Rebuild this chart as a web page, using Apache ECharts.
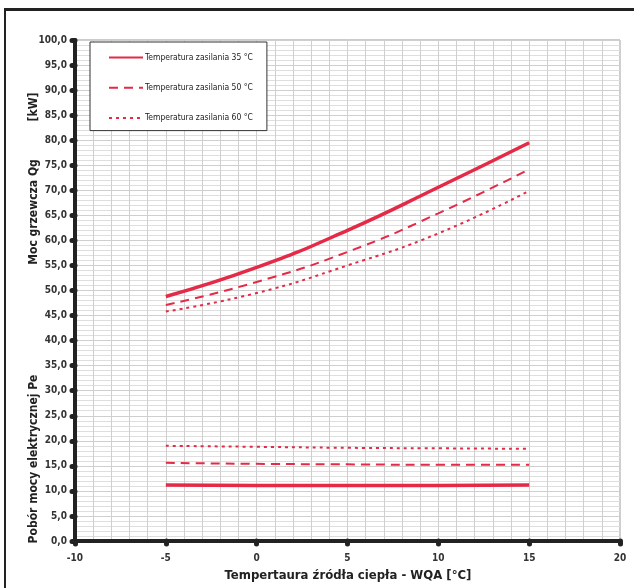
<!DOCTYPE html>
<html><head><meta charset="utf-8">
<script src="https://cdn.jsdelivr.net/npm/echarts@6/dist/echarts.min.js"></script>
<style>
html,body{margin:0;padding:0;background:#fff;}
#frame{position:absolute;left:4px;top:8px;width:640px;height:590px;border-top:3px solid #222;border-left:2px solid #222;}
#c{position:absolute;left:0;top:0;width:634px;height:588px;}
</style></head><body>
<div id="frame"></div>
<div id="c"></div>
<script>
const xValues = [-5, 0, 5, 10, 15];
const seriesNames = ['Temperatura zasilania 35 °C', 'Temperatura zasilania 50 °C', 'Temperatura zasilania 60 °C'];
const heat35 = [48.8, 54.6, 62.0, 70.6, 79.5];
const heat50 = [47.1, 51.7, 57.7, 65.4, 74.2];
const heat60 = [45.8, 49.5, 55.0, 61.4, 69.9];
const power35 = [11.2, 11.1, 11.1, 11.1, 11.2];
const power50 = [15.6, 15.4, 15.3, 15.2, 15.2];
const power60 = [19.0, 18.8, 18.6, 18.5, 18.4];
const yTickLabels = v => v.toFixed(1).replace('.', ',');

const red = '#e42a46';
const styles = [
  {width: 3.5, type: 'solid'},
  {width: 2, type: [9, 6]},
  {width: 2, type: [3, 4]}
];
const pair = (ys) => xValues.map((x, i) => [x, ys[i]]);
const groups = [[heat35, power35], [heat50, power50], [heat60, power60]];
const series = [];
groups.forEach((g, k) => {
  g.forEach(ys => {
    series.push({
      name: seriesNames[k], type: 'line', smooth: true, showSymbol: false, symbol: 'none',
      data: pair(ys), lineStyle: Object.assign({color: red}, styles[k]), itemStyle: {color: red}
    });
  });
});

const chart = echarts.init(document.getElementById('c'));
const gridColor = '#cfcfcf';
chart.setOption({
  animation: false,
  backgroundColor: 'transparent',
  grid: {left: 75, right: 14, top: 40, bottom: 47, show: true, borderColor: '#999', borderWidth: 1, backgroundColor: 'transparent'},
  legend: {
    orient: 'vertical', left: 90, top: 42, data: seriesNames,
    backgroundColor: '#fff', borderColor: '#333', borderWidth: 1,
    padding: [10, 14, 7, 18], itemGap: 19, itemWidth: 34, itemHeight: 14,
    itemStyle: {opacity: 0},
    textStyle: {fontSize: 8.5, fontFamily: 'DejaVu Sans Condensed', color: '#222', padding: [0, 0, 0, -3]}
  },
  xAxis: {
    type: 'value', min: -10, max: 20, interval: 5,
    axisLine: {show: true, onZero: false, lineStyle: {color: '#222', width: 4}},
    axisTick: {show: true, length: 3, lineStyle: {color: '#222', width: 5, cap: 'round'}},
    axisLabel: {margin: 12, fontSize: 10, fontWeight: 'bold', color: '#333', fontFamily: 'DejaVu Sans Condensed'},
    splitLine: {show: true, lineStyle: {color: gridColor, width: 1}},
    minorTick: {show: false, splitNumber: 5},
    minorSplitLine: {show: true, lineStyle: {color: gridColor, width: 1}}
  },
  yAxis: {
    type: 'value', min: 0, max: 100, interval: 5,
    axisLine: {show: true, onZero: false, lineStyle: {color: '#222', width: 4}},
    axisTick: {show: true, length: 3, lineStyle: {color: '#222', width: 5, cap: 'round'}},
    axisLabel: {margin: 8, fontSize: 10, fontWeight: 'bold', color: '#333', fontFamily: 'DejaVu Sans Condensed', formatter: yTickLabels},
    splitLine: {show: true, lineStyle: {color: gridColor, width: 1}},
    minorTick: {show: false, splitNumber: 5},
    minorSplitLine: {show: true, lineStyle: {color: '#dedede', width: 1}}
  },
  graphic: [
    {type: 'text', x: 34, y: 107, rotation: Math.PI / 2, style: {text: '[kW]', font: 'bold 12px "DejaVu Sans Condensed"', fill: '#222', align: 'center', verticalAlign: 'middle'}},
    {type: 'text', x: 34, y: 212, rotation: Math.PI / 2, style: {text: 'Moc grzewcza Qg', font: 'bold 12px "DejaVu Sans Condensed"', fill: '#222', align: 'center', verticalAlign: 'middle'}},
    {type: 'text', x: 34, y: 459, rotation: Math.PI / 2, style: {text: 'Pobór mocy elektrycznej Pe', font: 'bold 12px "DejaVu Sans Condensed"', fill: '#222', align: 'center', verticalAlign: 'middle'}},
    {type: 'text', x: 348, y: 576, style: {text: 'Tempertaura źródła ciepła - WQA [°C]', font: 'bold 13px "DejaVu Sans Condensed"', fill: '#222', align: 'center', verticalAlign: 'middle'}}
  ],
  series: series
});
</script>
</body></html>
